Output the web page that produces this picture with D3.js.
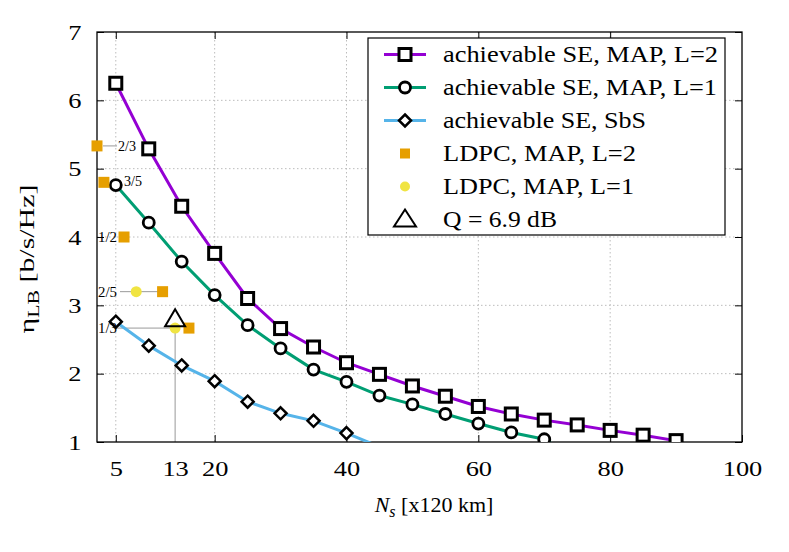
<!DOCTYPE html>
<html><head><meta charset="utf-8">
<script src="https://cdn.jsdelivr.net/npm/d3@7"></script>
<style>body{margin:0;background:#fff;}svg{display:block;} svg text{font-family:"Times New Roman","Times","Liberation Serif","Nimbus Roman","DejaVu Serif",serif !important;}</style>
</head><body><svg id="c" width="789" height="552"></svg>
<script>
const xTickValues = [5, 14, 20, 40, 60, 80, 100];
const xTickLabels = ["5", "13", "20", "40", "60", "80", "100"];
const yTickValues = [1, 2, 3, 4, 5, 6, 7];
const mapL2X = [5,10,15,20,25,30,35,40,45,50,55,60,65,70,75,80,85,90];
const mapL2Y = [6.25,5.29,4.45,3.76,3.10,2.66,2.39,2.16,1.99,1.82,1.67,1.52,1.41,1.32,1.25,1.17,1.10,1.02];
const mapL1X = [5,10,15,20,25,30,35,40,45,50,55,60,65,70,75];
const mapL1Y = [4.76,4.21,3.64,3.15,2.71,2.37,2.06,1.88,1.68,1.55,1.41,1.27,1.14,1.04,0.75];
const sbsX = [5,10,15,20,25,30,35,40,45];
const sbsY = [2.76,2.41,2.12,1.89,1.59,1.42,1.31,1.13,0.93];
const ldpcL2X = [2.15, 3.2, 6.25, 12.1, 16.1];
const ldpcL2Y = [5.333, 4.8, 4.0, 3.2, 2.667];
const ldpcL1X = [8.1, 14.0];
const ldpcL1Y = [3.2, 2.667];
const rateLabels = ["2/3", "3/5", "1/2", "2/5", "1/3"];
const qPoint = [14.0, 2.81];
const legendLabels = ["achievable SE, MAP, L=2","achievable SE, MAP, L=1","achievable SE, SbS","LDPC, MAP, L=2","LDPC, MAP, L=1","Q = 6.9 dB"];

const svg = d3.select("#c");
const L = 97, R = 742, T = 32, B = 442;
const x = d3.scaleLinear().domain([2.15, 100]).range([L, R]);
const y = d3.scaleLinear().domain([1, 7]).range([B, T]);
const FS = 22, SX = 1.2;

// grid
const g = svg.append("g");
[5,20,40,60,80].forEach(v => g.append("line").attr("x1", x(v)).attr("x2", x(v)).attr("y1", T).attr("y2", B)
  .attr("stroke", "#bcbcbc").attr("stroke-width", 1).attr("stroke-dasharray", "1.5,2.5"));
[2,3,4,5,6].forEach(v => g.append("line").attr("x1", L).attr("x2", R).attr("y1", y(v)).attr("y2", y(v))
  .attr("stroke", "#bcbcbc").attr("stroke-width", 1).attr("stroke-dasharray", "1.5,2.5"));

// helper lines
g.append("line").attr("x1", x(14)).attr("x2", x(14)).attr("y1", y(2.667)).attr("y2", B).attr("stroke", "#999").attr("stroke-width", 1);
g.append("line").attr("x1", x(5)).attr("x2", x(14)).attr("y1", y(2.667)).attr("y2", y(2.667)).attr("stroke", "#999").attr("stroke-width", 1);
g.append("line").attr("x1", x(ldpcL2X[0])+6).attr("x2", x(ldpcL2X[0])+20).attr("y1", y(5.333)).attr("y2", y(5.333)).attr("stroke", "#999").attr("stroke-width", 1);
g.append("line").attr("x1", L+23).attr("x2", x(12.1)).attr("y1", y(3.2)).attr("y2", y(3.2)).attr("stroke", "#999").attr("stroke-width", 1);

// axes frame
const ax = svg.append("g");
ax.append("rect").attr("x", L).attr("y", T).attr("width", R-L).attr("height", B-T).attr("fill", "none").attr("stroke", "#000").attr("stroke-width", 1.3);
const xAxB = d3.axisBottom(x).tickValues(xTickValues).tickFormat((d,i) => xTickLabels[i]).tickSize(-7).tickPadding(18);
const xg = svg.append("g").attr("transform", `translate(0,${B})`).call(xAxB);
xg.select(".domain").remove();
xg.selectAll("line").attr("stroke", (d) => d === 14 ? "none" : "#000");
xg.selectAll("text").attr("font-size", FS).attr("fill", "#000").attr("transform", `scale(${SX},1)`);
const xgT = svg.append("g").attr("transform", `translate(0,${T})`).call(d3.axisTop(x).tickValues([5,20,40,60,80]).tickSize(-7).tickFormat(""));
xgT.select(".domain").remove();
const yg = svg.append("g").attr("transform", `translate(${L},0)`).call(d3.axisLeft(y).tickValues(yTickValues).tickSize(-7).tickPadding(13).tickFormat(d3.format("d")));
yg.select(".domain").remove();
yg.selectAll("text").attr("font-size", FS).attr("fill", "#000").attr("transform", `scale(${SX},1)`);
const ygR = svg.append("g").attr("transform", `translate(${R},0)`).call(d3.axisRight(y).tickValues(yTickValues).tickSize(-7).tickFormat(""));
ygR.select(".domain").remove();

// clip
svg.append("clipPath").attr("id", "clip").append("rect").attr("x", L).attr("y", T).attr("width", R-L).attr("height", B-T);

const plot = svg.append("g").attr("clip-path", "url(#clip)");
const line = d3.line().x(d => x(d[0])).y(d => y(d[1]));
const series = [
  {xs: mapL2X, ys: mapL2Y, color: "#9400D3", marker: "square"},
  {xs: mapL1X, ys: mapL1Y, color: "#009E73", marker: "circle"},
  {xs: sbsX, ys: sbsY, color: "#56B4E9", marker: "diamond"}
];
function drawMarker(sel, type, cx, cy) {
  if (type === "square") sel.append("rect").attr("x", cx-6).attr("y", cy-6).attr("width", 12).attr("height", 12).attr("fill", "#fff").attr("stroke", "#000").attr("stroke-width", 3);
  else if (type === "circle") sel.append("circle").attr("cx", cx).attr("cy", cy).attr("r", 5.5).attr("fill", "#fff").attr("stroke", "#000").attr("stroke-width", 2.8);
  else if (type === "diamond") sel.append("path").attr("d", `M${cx},${cy-6}L${cx+6},${cy}L${cx},${cy+6}L${cx-6},${cy}Z`).attr("fill", "#fff").attr("stroke", "#000").attr("stroke-width", 2.5);
}
series.forEach(s => {
  const pts = s.xs.map((v,i) => [v, s.ys[i]]);
  plot.append("path").datum(pts).attr("d", line).attr("fill", "none").attr("stroke", s.color).attr("stroke-width", 3);
});
series.forEach(s => {
  s.xs.forEach((v,i) => { if (s.ys[i] >= 1) drawMarker(plot, s.marker, x(v), y(s.ys[i])); });
});

// LDPC points
const pts = svg.append("g");
ldpcL1X.forEach((v,i) => pts.append("circle").attr("cx", x(v)).attr("cy", y(ldpcL1Y[i])).attr("r", 5.5).attr("fill", "#F0E442"));
ldpcL2X.forEach((v,i) => pts.append("rect").attr("x", x(v)-5.5).attr("y", y(ldpcL2Y[i])-5.5).attr("width", 11).attr("height", 11).attr("fill", "#E69F00"));
// triangle
const tx = x(qPoint[0]), ty = y(qPoint[1]);
pts.append("path").attr("d", `M${tx},${ty-9}L${tx+10},${ty+8}L${tx-10},${ty+8}Z`).attr("fill", "none").attr("stroke", "#000").attr("stroke-width", 2);

// rate labels
const rl = svg.append("g").attr("font-size", 15).attr("fill", "#000");
rl.append("text").attr("x", 118).attr("y", y(5.333)+5).attr("textLength", 18).text(rateLabels[0]);
rl.append("text").attr("x", 124).attr("y", y(4.8)+4).attr("textLength", 18).text(rateLabels[1]);
rl.append("text").attr("x", 98).attr("y", y(4.0)+5).attr("textLength", 19).text(rateLabels[2]);
rl.append("text").attr("x", 98).attr("y", y(3.2)+5).attr("textLength", 19).text(rateLabels[3]);
rl.append("text").attr("x", 98).attr("y", y(2.667)+5).attr("textLength", 19).text(rateLabels[4]);
rl.selectAll("text").attr("lengthAdjust", "spacingAndGlyphs");

// legend
const lg = svg.append("g");
lg.append("rect").attr("x", 368).attr("y", 38).attr("width", 357).attr("height", 197).attr("fill", "#fff").attr("stroke", "#000").attr("stroke-width", 1.2);
const ly0 = 54.5, ldy = 33;
const legendLen = [275, 274, 203, 193, 191, 114];
legendLabels.forEach((t,i) => {
  const ly = ly0 + i*ldy;
  if (i < 3) {
    lg.append("line").attr("x1", 384).attr("x2", 426).attr("y1", ly).attr("y2", ly).attr("stroke", series[i].color).attr("stroke-width", 3);
    drawMarker(lg, series[i].marker, 405, ly);
  } else if (i === 3) {
    lg.append("rect").attr("x", 400).attr("y", ly-5).attr("width", 10).attr("height", 10).attr("fill", "#E69F00");
  } else if (i === 4) {
    lg.append("circle").attr("cx", 405).attr("cy", ly).attr("r", 5).attr("fill", "#F0E442");
  } else {
    lg.append("path").attr("d", `M405,${ly-10}L416,${ly+7}L394,${ly+7}Z`).attr("fill", "none").attr("stroke", "#000").attr("stroke-width", 2);
  }
  lg.append("text").attr("x", 443).attr("y", ly+7.5).attr("font-size", 22.5)
    .attr("textLength", legendLen[i]).attr("lengthAdjust", "spacingAndGlyphs").text(t);
});

// axis titles
const yt = svg.append("text").attr("transform", "translate(34,259) rotate(-90) scale(1.36,1)").attr("text-anchor", "middle").attr("font-size", 22);
yt.append("tspan").text("η");
yt.append("tspan").attr("font-size", 16).attr("dy", 5).text("LB");
yt.append("tspan").attr("dy", -5).text(" [b/s/Hz]");
const xt = svg.append("text").attr("transform", "translate(434,512)").attr("text-anchor", "middle").attr("font-size", 22);
xt.append("tspan").attr("font-style", "italic").text("N");
xt.append("tspan").attr("font-style", "italic").attr("font-size", 16).attr("dy", 5).text("s");
xt.append("tspan").attr("dy", -5).text(" [x120 km]");
</script></body></html>
